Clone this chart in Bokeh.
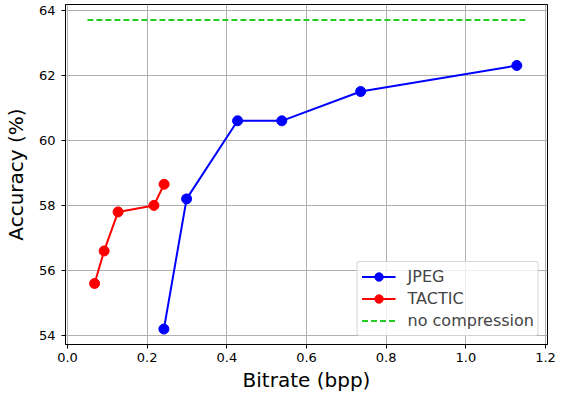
from bokeh.plotting import figure
from bokeh.models import Range1d, FixedTicker, PrintfTickFormatter, Legend, LegendItem
from bokeh.embed import file_html
from bokeh.resources import INLINE

jpeg_bpp = [0.242, 0.299, 0.427, 0.538, 0.736, 1.128]
jpeg_acc = [54.2, 58.2, 60.6, 60.6, 61.5, 62.3]
tactic_bpp = [0.068, 0.092, 0.127, 0.217, 0.2425]
tactic_acc = [55.6, 56.6, 57.8, 58.0, 58.65]
nocomp_bpp = [0.05, 1.15]
nocomp_acc = [63.7, 63.7]
x_ticks = [0.0, 0.2, 0.4, 0.6, 0.8, 1.0, 1.2]
y_ticks = [54, 56, 58, 60, 62, 64]

FONT = "DejaVu Sans"

p = figure(width=558, height=394, output_backend="svg", toolbar_location=None,
           x_range=Range1d(-0.005, 1.205), y_range=Range1d(53.725, 64.175),
           min_border_left=65, min_border_right=11, min_border_top=4, min_border_bottom=49)
p.outline_line_color = "black"
p.outline_line_width = 1
p.background_fill_color = "white"
p.border_fill_color = "white"

for ax in (p.xaxis[0], p.yaxis[0]):
    ax.axis_line_color = "black"
    ax.major_tick_line_color = "black"
    ax.major_tick_out = 4
    ax.major_tick_in = 0
    ax.minor_tick_line_color = None
    ax.major_label_text_font = FONT
    ax.major_label_text_font_size = "13px"
    ax.major_label_text_color = "black"
    ax.axis_label_text_font = FONT
    ax.axis_label_text_font_size = "20px"
    ax.axis_label_text_font_style = "normal"
    ax.axis_label_text_color = "black"

p.xaxis.ticker = FixedTicker(ticks=x_ticks)
p.yaxis.ticker = FixedTicker(ticks=y_ticks)
p.xaxis.formatter = PrintfTickFormatter(format="%.1f")
p.yaxis.formatter = PrintfTickFormatter(format="%d")
p.xaxis.axis_label = "Bitrate (bpp)"
p.yaxis.axis_label = "Accuracy (%)"
p.xaxis.major_label_standoff = 4
p.yaxis.major_label_standoff = 6
p.xaxis.axis_label_standoff = 3
p.yaxis.axis_label_standoff = 8

p.grid.grid_line_color = "#b0b0b0"
p.grid.grid_line_width = 1

jl = p.line(jpeg_bpp, jpeg_acc, line_color="blue", line_width=2)
jm = p.scatter(jpeg_bpp, jpeg_acc, size=10, fill_color="blue", line_color="blue")
tl = p.line(tactic_bpp, tactic_acc, line_color="red", line_width=2)
tm = p.scatter(tactic_bpp, tactic_acc, size=10, fill_color="red", line_color="red")
nl = p.line(nocomp_bpp, nocomp_acc, line_color="#22cc22", line_width=2, line_dash="6 3")

legend = Legend(items=[
    LegendItem(label="JPEG", renderers=[jl, jm]),
    LegendItem(label="TACTIC", renderers=[tl, tm]),
    LegendItem(label="no compression", renderers=[nl]),
], location="bottom_right")
legend.label_text_font = FONT
legend.label_text_font_size = "16px"
legend.glyph_width = 34
legend.glyph_height = 21
legend.label_height = 21
legend.label_standoff = 12
legend.spacing = 1
legend.padding = 4
legend.margin = 8
legend.border_line_color = "#cccccc"
legend.border_line_alpha = 0.8
legend.border_radius = 3
legend.background_fill_alpha = 0.8
p.add_layout(legend)

open("out.html", "w").write(file_html(p, INLINE))
